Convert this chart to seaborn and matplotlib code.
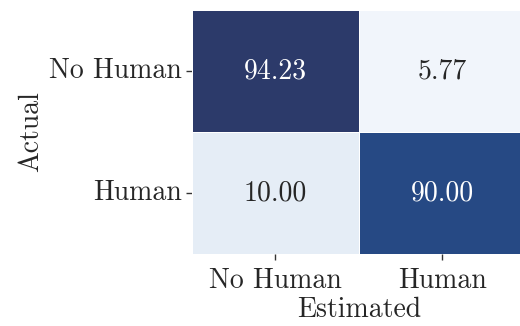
import numpy as np
import pandas as pd
import matplotlib
matplotlib.use("Agg")
import matplotlib.pyplot as plt
from matplotlib.colors import LinearSegmentedColormap
import seaborn as sns

# Confusion matrix (percent of each actual class)
actual_labels = ["No Human", "Human"]
estimated_labels = ["No Human", "Human"]
row_no_human = [94.23, 5.77]
row_human = [10.00, 90.00]

cm = pd.DataFrame([row_no_human, row_human], index=actual_labels, columns=estimated_labels)

sns.set_theme(style="white")
plt.rcParams["font.family"] = ["cmr10", "DejaVu Serif"]
plt.rcParams["axes.unicode_minus"] = False
plt.rcParams["axes.formatter.use_mathtext"] = True

cmap = LinearSegmentedColormap.from_list(
    "navy_seq",
    [(0.0, "#f1f5fb"), (0.05, "#e4ecf6"), (0.5, "#8aa6cc"), (0.95, "#264a86"), (1.0, "#2c3a6a")],
)

fig = plt.figure(figsize=(5.2, 3.26), dpi=100)
ax = fig.add_axes([0.369, 0.221, 0.642, 0.748])

sns.heatmap(
    cm, ax=ax, annot=True, fmt=".2f", cmap=cmap, cbar=False,
    linewidths=0.5, linecolor="#ffffff",
    annot_kws={"fontsize": 20},
)

ax.set_xlabel("Estimated", fontsize=20, labelpad=2)
ax.set_ylabel("Actual", fontsize=20, labelpad=4)
ax.tick_params(axis="both", labelsize=20, length=4, width=1, color="#333333",
               bottom=True, left=True)
ax.tick_params(axis="x", pad=6)
ax.tick_params(axis="y", pad=3)
plt.setp(ax.get_yticklabels(), rotation=0, va="center")
plt.setp(ax.get_xticklabels(), rotation=0)

fig.savefig("out.png", dpi=100)
